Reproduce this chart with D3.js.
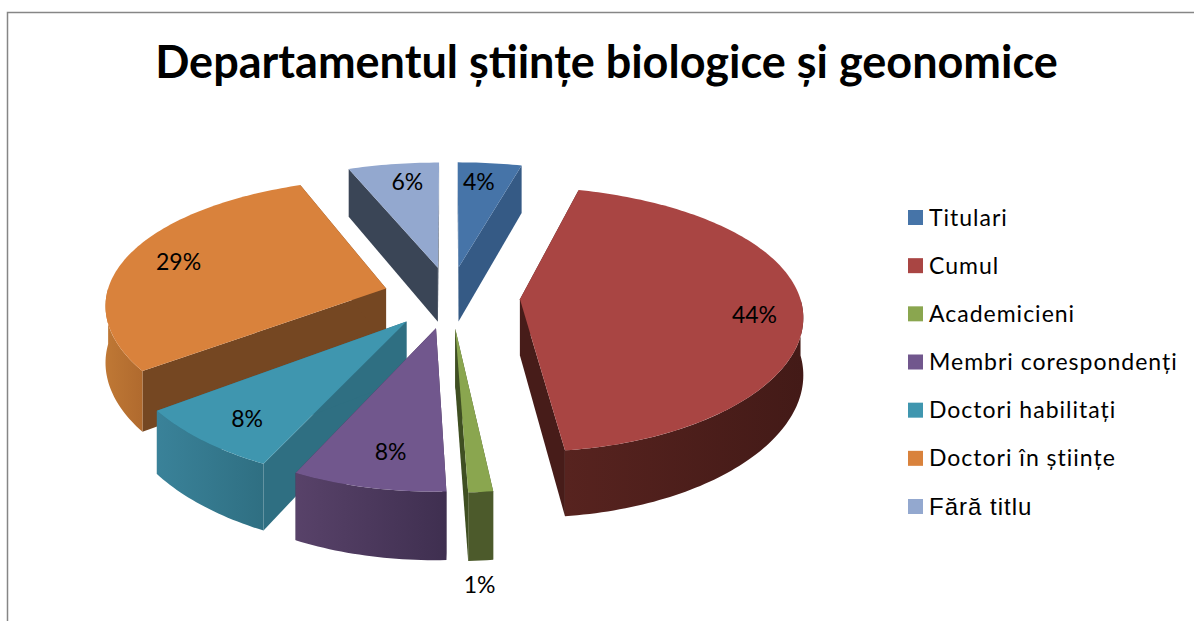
<!DOCTYPE html>
<html>
<head>
<meta charset="utf-8">
<title>Departamentul științe biologice și geonomice</title>
<script src="https://cdn.jsdelivr.net/npm/d3@7"></script>
<style>
  html, body { margin: 0; padding: 0; background: #fff; }
  svg { display: block; }
  text { font-family: Lato, sans-serif; fill: #000; }
</style>
</head>
<body>
<div id="chart"></div>
<script>
// data
var categories = ["Titulari", "Cumul", "Academicieni", "Membri corespondenți", "Doctori habilitați", "Doctori în științe", "Fără titlu"];
var percentLabels = ["4%", "44%", "1%", "8%", "8%", "29%", "6%"];
// shares, they round to the printed labels
var shares = [4.17, 44.0, 1.23, 7.72, 7.72, 29.22, 5.94];

// colours, same order as categories
var topColors = ["#4674A8", "#A94543", "#8AA64F", "#71578D", "#3F96AF", "#D9823C", "#93A8CF"];
var cutColors = ["#355A85", "#471C19", "#3F4F22", "#41304F", "#2F6F82", "#754722", "#3A4556"];
var rimLeft = ["#355A85", "#57231F", "#4C5A2B", "#584269", "#3A8299", "#BF7835", "#3A4556"];
var rimRight = ["#355A85", "#431A17", "#4C5A2B", "#3F2F50", "#2F6F82", "#B06A2E", "#3A4556"];

// how far each slice is pulled out
var explodes = [67, 70, 67, 67, 67, 67, 67];

// where each percent label sits on its slice (degrees, fraction of radius)
var labelAngle = [6, 98, 177.3, 190, 218, 285.7, 351];
var labelRadius = [0.80, 0.83, 1.44, 0.80, 0.82, 0.80, 0.80];

var width = 1194, height = 621;
var cx = 450, cy = 297;
var radius = 280, depth = 56;
var tilt = 0.46, perspX = 0.0004, perspY = 0.00053;

var svg = d3.select("#chart").append("svg")
  .attr("width", width)
  .attr("height", height);
var defs = svg.append("defs");

// frame, only left and top are in the picture
svg.append("path")
  .attr("d", "M7.5," + height + "V12.5H" + width)
  .attr("fill", "none")
  .attr("stroke", "#868686")
  .attr("stroke-width", 1.5);

svg.append("text")
  .attr("x", 606.5)
  .attr("y", 78)
  .attr("text-anchor", "middle")
  .attr("font-size", 45)
  .attr("font-weight", 700)
  .text("Departamentul științe biologice și geonomice");

var arcs = d3.pie()
  .sort(null)
  .value(function(d) { return d; })(shares);
var line = d3.line();

// ground point (x to the right, z away from viewer) to the screen
function project(x, z, h) {
  var sx = 1 / (1 + perspX * z);
  var sy = 1 / (1 + perspY * z);
  return [cx + x * sx, cy - z * tilt * sy + (h || 0) * sy];
}

function slicePoint(d, angle, r, h) {
  var mid = (d.startAngle + d.endAngle) / 2;
  var x = explodes[d.index] * Math.sin(mid) + r * Math.sin(angle);
  var z = explodes[d.index] * Math.cos(mid) + r * Math.cos(angle);
  return project(x, z, h);
}

function angleSteps(a0, a1) {
  var n = Math.max(2, Math.ceil((a1 - a0) / 0.02));
  return d3.range(n + 1).map(function(i) { return a0 + (a1 - a0) * i / n; });
}

function cutFace(d, angle) {
  return line([
    slicePoint(d, angle, 0, 0),
    slicePoint(d, angle, radius, 0),
    slicePoint(d, angle, radius, depth),
    slicePoint(d, angle, 0, depth)
  ]) + "Z";
}

function rimFace(d) {
  var a0 = Math.max(d.startAngle, Math.PI / 2);
  var a1 = Math.min(d.endAngle, Math.PI * 1.5);
  if (a1 <= a0) return null;
  var steps = angleSteps(a0, a1);
  var upper = steps.map(function(a) { return slicePoint(d, a, radius, 0); });
  var lower = steps.reverse().map(function(a) { return slicePoint(d, a, radius, depth); });
  return line(upper.concat(lower)) + "Z";
}

function topFace(d) {
  var rim = angleSteps(d.startAngle, d.endAngle).map(function(a) { return slicePoint(d, a, radius, 0); });
  return line([slicePoint(d, d.startAngle, 0, 0)].concat(rim)) + "Z";
}

// paint back to front
var drawOrder = [0, 6, 5, 4, 3, 2, 1];

drawOrder.forEach(function(i) {
  var d = arcs[i];
  var g = svg.append("g").attr("class", "slice");

  g.append("path").attr("d", cutFace(d, d.startAngle)).attr("fill", cutColors[i]);
  g.append("path").attr("d", cutFace(d, d.endAngle)).attr("fill", cutColors[i]);

  var rim = rimFace(d);
  if (rim) {
    var grad = defs.append("linearGradient")
      .attr("id", "rim" + i)
      .attr("x1", "0").attr("x2", "1").attr("y1", "0").attr("y2", "0");
    grad.append("stop").attr("offset", "0").attr("stop-color", rimLeft[i]);
    grad.append("stop").attr("offset", "1").attr("stop-color", rimRight[i]);
    g.append("path").attr("d", rim).attr("fill", "url(#rim" + i + ")");
  }

  g.append("path").attr("d", topFace(d)).attr("fill", topColors[i]);
});

// percent labels
arcs.forEach(function(d, i) {
  var p = slicePoint(d, labelAngle[i] * Math.PI / 180, labelRadius[i] * radius, 0);
  svg.append("text")
    .attr("x", p[0])
    .attr("y", p[1])
    .attr("dy", "0.35em")
    .attr("text-anchor", "middle")
    .attr("font-size", 23)
    .text(percentLabels[i]);
});

// legend
var legendY = d3.scalePoint()
  .domain(categories)
  .range([217.5, 506.5]);

var legend = svg.selectAll(".legend")
  .data(categories)
  .enter().append("g")
    .attr("class", "legend")
    .attr("transform", function(d) { return "translate(908," + legendY(d) + ")"; });

legend.append("rect")
  .attr("y", -7.5)
  .attr("width", 15)
  .attr("height", 15)
  .attr("fill", function(d, i) { return topColors[i]; });

legend.append("text")
  .attr("x", 21)
  .attr("dy", "0.35em")
  .attr("font-size", function(d, i) { return i === 6 ? 24 : 23; })
  .attr("letter-spacing", 1)
  .style("font-family", function(d, i) { return i === 6 ? "'Liberation Sans', sans-serif" : null; })
  .text(function(d) { return d; });
</script>
</body>
</html>
